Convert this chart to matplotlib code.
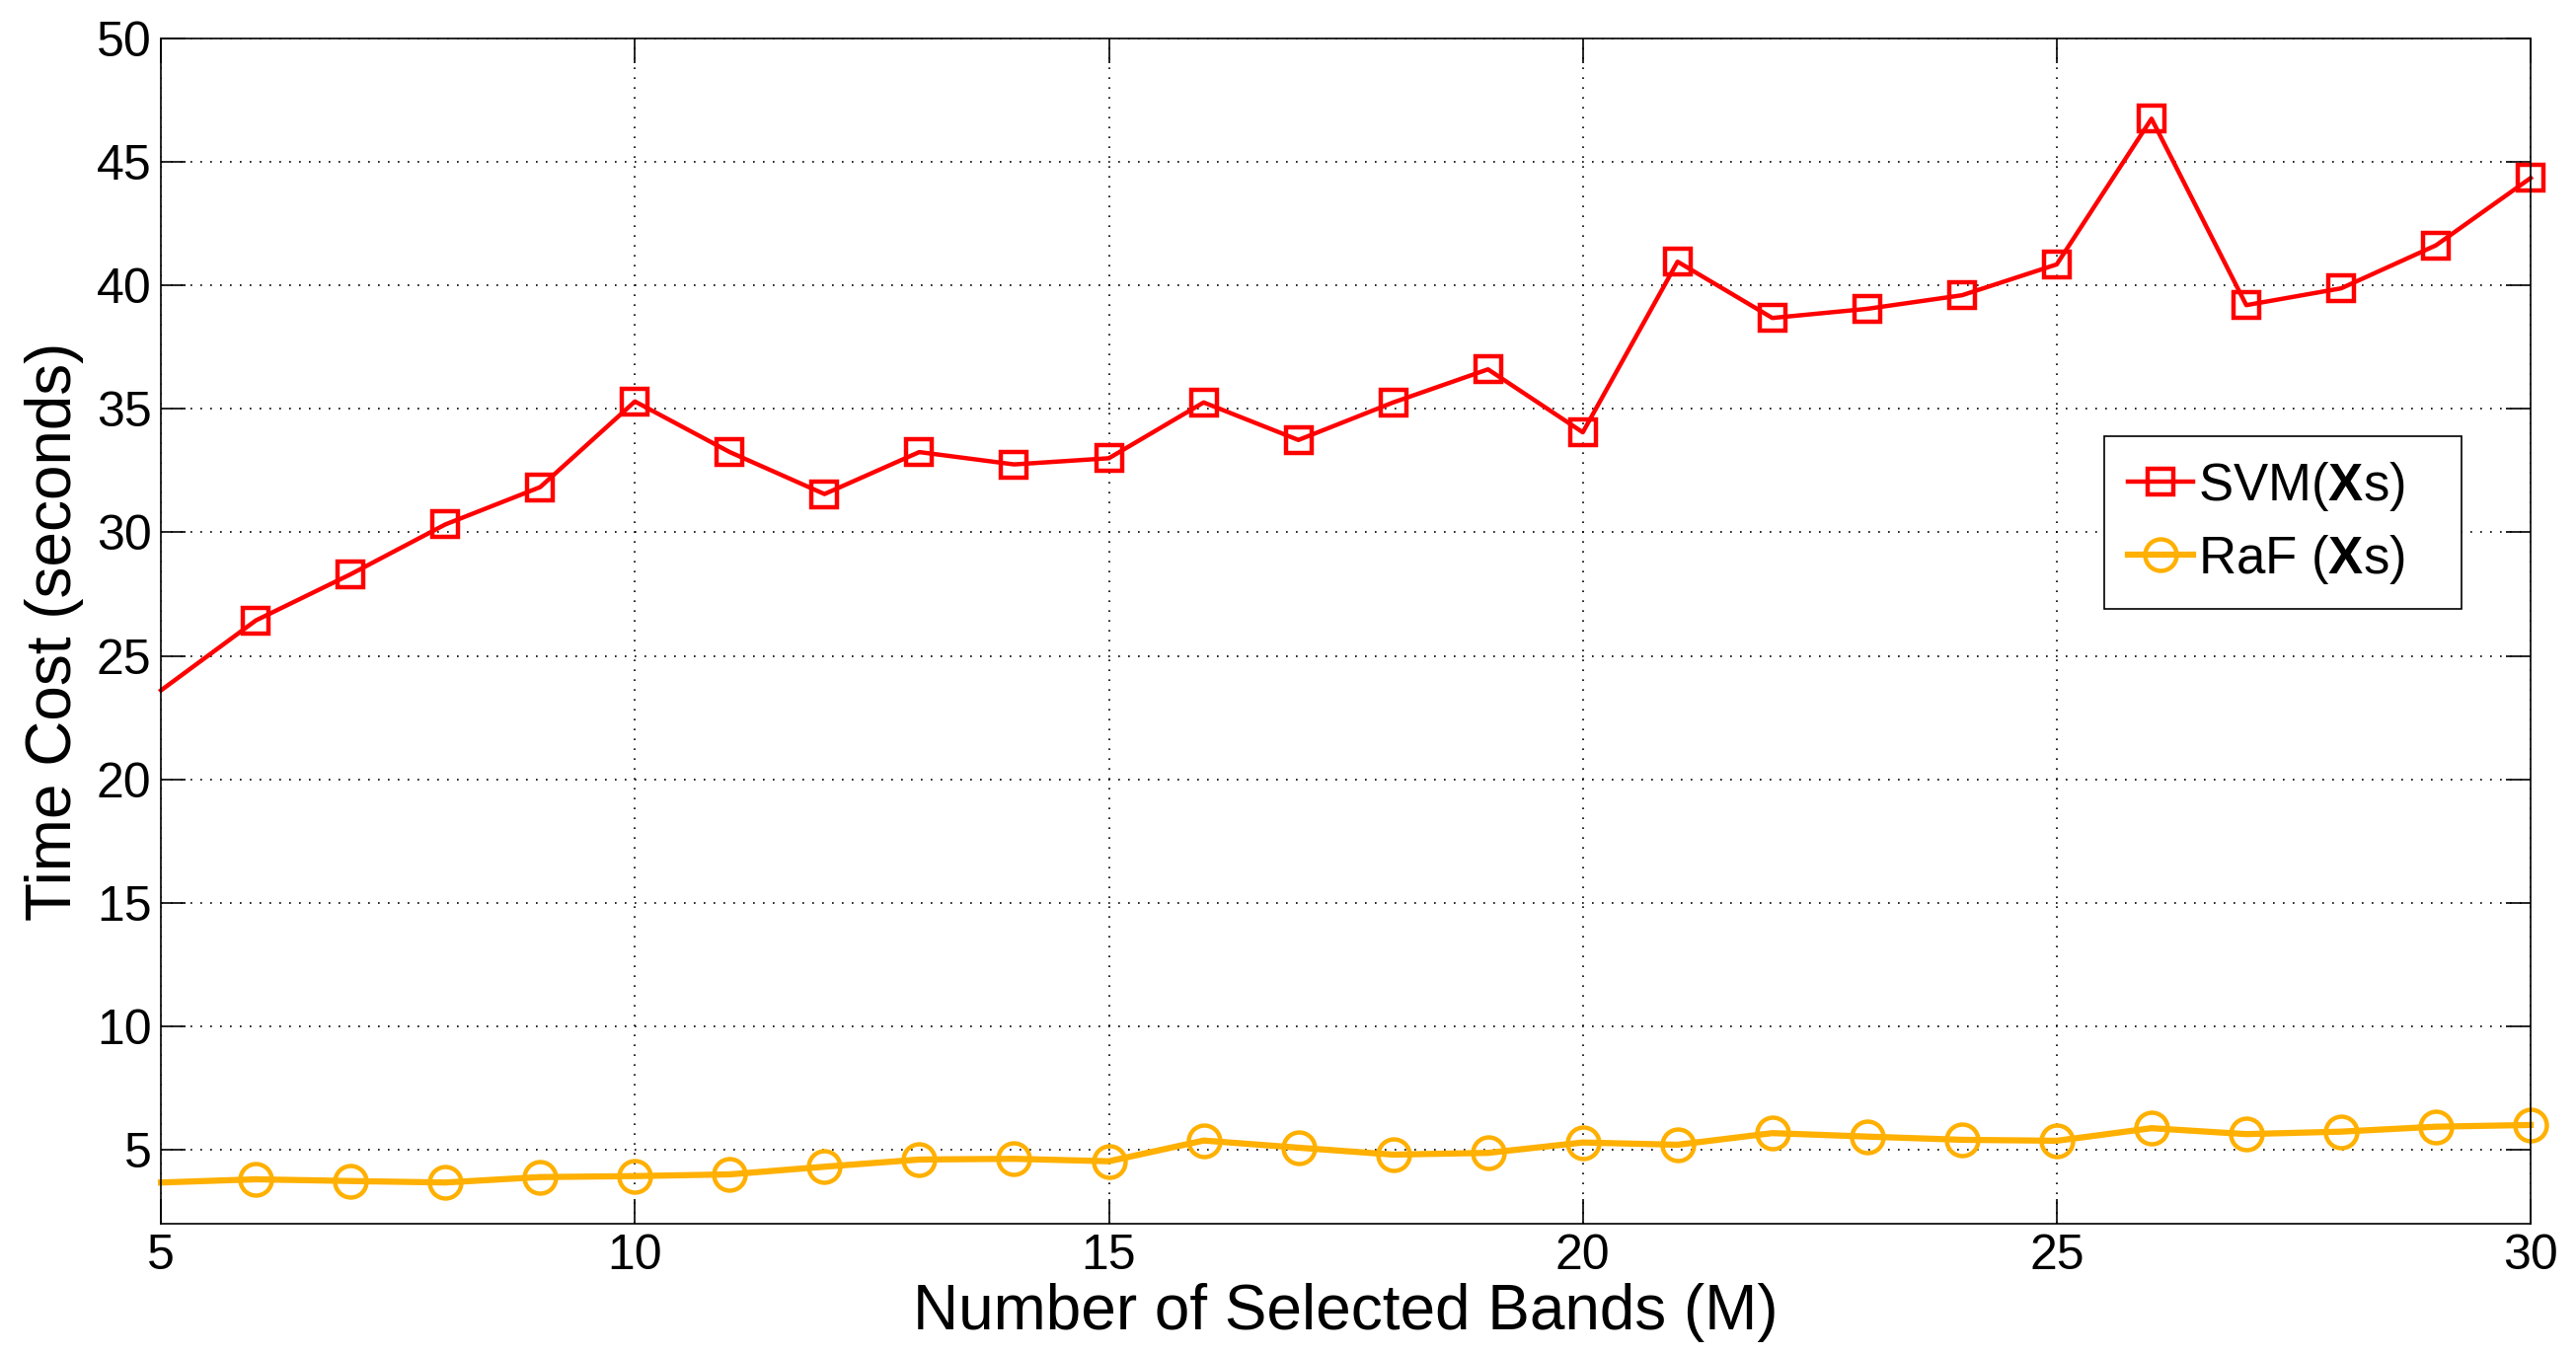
import matplotlib.pyplot as plt
import numpy as np

# Datos
bands = list(range(5, 31))
svm_xs = [23.6, 26.43, 28.3, 30.32, 31.83, 35.3, 33.25, 31.55, 33.25, 32.75, 33.0,
          35.26, 33.74, 35.26, 36.6, 34.05, 40.96, 38.68, 39.05, 39.6, 40.85,
          46.75, 39.2, 39.88, 41.62, 44.35]
raf_xs = [3.67, 3.8, 3.73, 3.67, 3.89, 3.93, 4.0, 4.31, 4.6, 4.63, 4.53,
          5.37, 5.08, 4.8, 4.87, 5.29, 5.2, 5.67, 5.53, 5.4, 5.36,
          5.87, 5.63, 5.73, 5.93, 6.0]
xticks = [5, 10, 15, 20, 25, 30]
yticks = [5, 10, 15, 20, 25, 30, 35, 40, 45, 50]

plt.rcParams['font.family'] = ['Liberation Sans', 'DejaVu Sans']
plt.rcParams['mathtext.fontset'] = 'custom'
plt.rcParams['mathtext.rm'] = 'Liberation Sans'
plt.rcParams['mathtext.bf'] = 'Liberation Sans:bold'

fig = plt.figure(figsize=(26.1, 13.72), dpi=100)
ax = fig.add_axes([0.0625, 0.0962, 0.9199, 0.8754])

# sin marcador en el primer punto (x=5), como en la figura original
marks = list(range(1, len(bands)))
ax.plot(bands, svm_xs, color='#ff0000', lw=3.2, marker='s', ms=19, mew=3.2,
        mfc='none', markevery=marks, clip_on=False, label=r'SVM($\mathbf{X}$s)')
ax.plot(bands, raf_xs, color='#ffb000', lw=4.5, marker='o', ms=23, mew=3.2,
        mfc='none', markevery=marks, clip_on=False, label=r'RaF ($\mathbf{X}$s)')

ax.set_xlim(5, 30)
ax.set_ylim(2, 50)
ax.set_xticks(xticks)
ax.set_yticks(yticks)

# Cuadrícula punteada
ax.grid(True, which='major', color='black', lw=1.2, linestyle=(0, (1, 5)))
ax.tick_params(direction='in', length=18, width=1.2, top=True, right=True,
               labelsize=36, pad=7)
for s in ax.spines.values():
    s.set_linewidth(1.2)

ax.set_xlabel('Number of Selected Bands (M)', fontsize=46, labelpad=3)
ax.set_ylabel('Time Cost (seconds)', fontsize=46, labelpad=9)

leg = ax.legend(loc='upper left', bbox_to_anchor=(0.820, 0.526, 0.151, 0.1385),
                mode='expand', fontsize=38,
                frameon=True, fancybox=False, edgecolor='black', framealpha=1,
                handlelength=1.25, handletextpad=0.1, borderpad=0.45,
                labelspacing=0.38, borderaxespad=0)
leg.get_frame().set_linewidth(1.2)

plt.savefig('out.png', dpi=100)
